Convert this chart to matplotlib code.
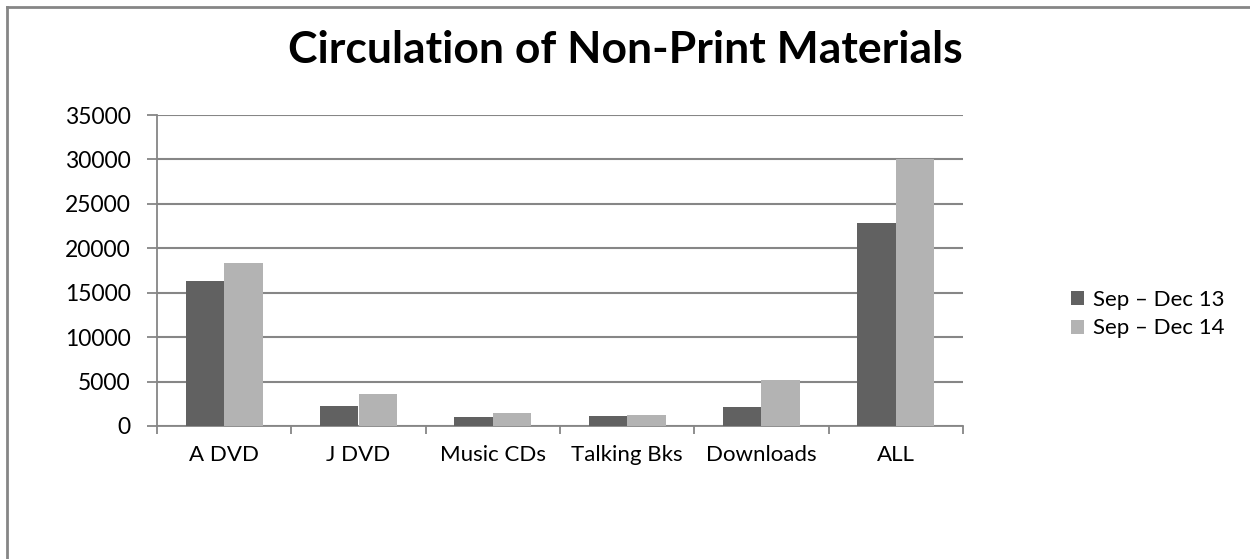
import matplotlib
matplotlib.use("Agg")
import matplotlib.pyplot as plt
import numpy as np
from matplotlib.lines import Line2D

plt.rcParams['font.family'] = ['Lato', 'DejaVu Sans']

# data
categories = ['A DVD', 'J DVD', 'Music CDs', 'Talking Bks', 'Downloads', 'ALL']
sep_dec_13 = [16300, 2200, 1050, 1080, 2100, 22900]
sep_dec_14 = [18400, 3550, 1480, 1230, 5220, 30000]
series_names = ['Sep \u2013 Dec 13', 'Sep \u2013 Dec 14']

dark = '#616161'
light = '#b3b3b3'
grey = '#868686'

fig = plt.figure(figsize=(12.5, 5.59), dpi=100)
ax = fig.add_axes([157 / 1250, 1 - 426 / 559, (963 - 157) / 1250, (426 - 115) / 559])

x = np.arange(len(categories))
w = 1 / 3.5  # excel gap width 150%
ax.bar(x - w / 2, sep_dec_13, w, color=dark, label=series_names[0], zorder=3)
ax.bar(x + w / 2, sep_dec_14, w, color=light, label=series_names[1], zorder=3)

ax.set_xlim(-0.5, len(categories) - 0.5)
ax.set_ylim(0, 35000)
ax.set_yticks(np.arange(0, 35001, 5000))
ax.set_xticks(x)
ax.set_xticklabels(categories, fontsize=16)
ax.set_xticks(np.arange(-0.5, len(categories)), minor=True)
ax.tick_params(axis='x', which='major', length=0, pad=14)
ax.tick_params(axis='x', which='minor', length=6, width=1.3, color=grey, direction='out')
ax.tick_params(axis='y', length=7, width=1.3, color=grey, direction='out', labelsize=16.5, pad=12)

ax.grid(axis='y', color=grey, linewidth=1.5, zorder=0)
for s in ['top', 'right']:
    ax.spines[s].set_visible(False)
for s in ['left', 'bottom']:
    ax.spines[s].set_color(grey)
    ax.spines[s].set_linewidth(1.3)

fig.text(0.5, 1 - 50 / 559, 'Circulation of Non-Print Materials', ha='center', va='center',
         fontsize=32, fontweight='bold')

leg = fig.legend(loc='center left', bbox_to_anchor=(1062 / 1250, 1 - 314 / 559), frameon=False,
                 fontsize=16, handlelength=0.6, handleheight=0.6, handletextpad=0.4,
                 labelspacing=0.4, borderaxespad=0)

# outer chart frame (top and left edges visible)
fig.add_artist(Line2D([7 / 1250, 1], [1 - 7 / 559, 1 - 7 / 559], color=grey, linewidth=2,
                      transform=fig.transFigure))
fig.add_artist(Line2D([7 / 1250, 7 / 1250], [0, 1 - 7 / 559], color=grey, linewidth=2,
                      transform=fig.transFigure))

fig.savefig('out.png', dpi=100)
